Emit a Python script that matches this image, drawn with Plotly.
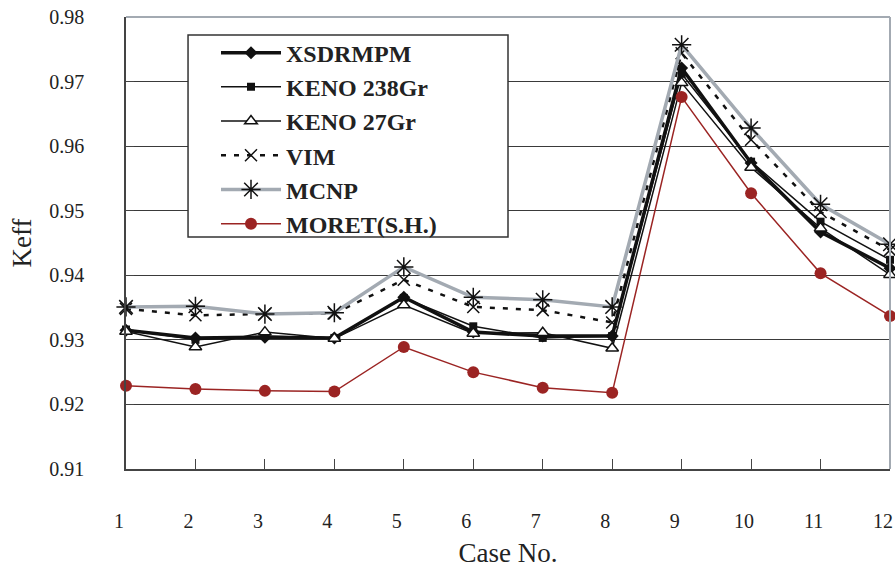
import plotly.graph_objects as go

cases = list(range(1, 13))
tick_labels = [str(c) for c in cases]

xsdrmpm = [0.9315, 0.9303, 0.9304, 0.9303, 0.9366, 0.9312, 0.9306, 0.9306, 0.9721, 0.9574, 0.9467, 0.9411]
keno238 = [0.9316, 0.9300, 0.9306, 0.9303, 0.9365, 0.9321, 0.9303, 0.9306, 0.9712, 0.9576, 0.9483, 0.9424]
keno27 = [0.9313, 0.9289, 0.9312, 0.9302, 0.9354, 0.9310, 0.9311, 0.9287, 0.9698, 0.9567, 0.9473, 0.9401]
vim = [0.9348, 0.9338, 0.9340, 0.9341, 0.9393, 0.9351, 0.9346, 0.9327, 0.9744, 0.9610, 0.9498, 0.9439]
mcnp = [0.9351, 0.9352, 0.9340, 0.9342, 0.9413, 0.9366, 0.9362, 0.9351, 0.9757, 0.9628, 0.9510, 0.9448]
moret = [0.9229, 0.9224, 0.9221, 0.9220, 0.9289, 0.9250, 0.9226, 0.9218, 0.9676, 0.9527, 0.9403, 0.9337]

y_ticks = [0.91, 0.92, 0.93, 0.94, 0.95, 0.96, 0.97, 0.98]

serif = "Liberation Serif, Times New Roman, serif"
red = "#9b2423"
gray = "#a3aab2"

fig = go.Figure()

fig.add_trace(go.Scatter(x=cases, y=xsdrmpm, name="XSDRMPM", mode="lines+markers",
                         line=dict(color="#111111", width=3.5),
                         marker=dict(symbol="diamond", size=10, color="#111111")))
fig.add_trace(go.Scatter(x=cases, y=keno238, name="KENO 238Gr", mode="lines+markers",
                         line=dict(color="#111111", width=1.5),
                         marker=dict(symbol="square", size=8, color="#111111")))
fig.add_trace(go.Scatter(x=cases, y=keno27, name="KENO 27Gr", mode="lines+markers",
                         line=dict(color="#111111", width=1.5),
                         marker=dict(symbol="triangle-up", size=11, color="white",
                                     line=dict(color="#111111", width=1.5))))
fig.add_trace(go.Scatter(x=cases, y=vim, name="VIM", mode="lines+markers",
                         line=dict(color="#111111", width=2.5, dash="5px,8px"),
                         marker=dict(symbol="x-thin-open", size=12, color="#111111",
                                     line=dict(color="#111111", width=1.5))))
fig.add_trace(go.Scatter(x=cases, y=mcnp, name="MCNP", mode="lines+markers",
                         line=dict(color=gray, width=3.5),
                         marker=dict(symbol="asterisk-open", size=16, color="#111111",
                                     line=dict(color="#111111", width=1.5))))
fig.add_trace(go.Scatter(x=cases, y=moret, name="MORET(S.H.)", mode="lines+markers",
                         line=dict(color=red, width=1.5),
                         marker=dict(symbol="circle", size=12, color=red)))

fig.update_traces(cliponaxis=False)

fig.update_layout(
    width=895, height=568,
    margin=dict(l=126, r=5, t=17, b=99),
    paper_bgcolor="white", plot_bgcolor="white",
    font=dict(family=serif, color="#222222"),
    showlegend=True,
    legend=dict(x=0.1178, y=0.9700, xanchor="left", yanchor="top",
                bgcolor="rgba(0,0,0,0)", borderwidth=0,
                font=dict(family=serif, size=24, color="#222222", weight="bold"),
                itemwidth=60, tracegroupgap=0),
    xaxis=dict(range=[1, 12], tickvals=cases, ticktext=tick_labels, automargin=False,
               showgrid=False, zeroline=False,
               showline=True, linecolor="#444444", linewidth=1.5,
               ticks="inside", ticklen=10, tickcolor="#444444", tickwidth=1,
               tickfont=dict(size=20, color="#222222"), ticklabelstandoff=33,
               ticklabelshift=-7, ticklabeloverflow="allow",
               title=dict(text="Case No.", font=dict(size=27, color="#222222"), standoff=12)),
    yaxis=dict(range=[0.91, 0.98], tickvals=y_ticks, ticktext=[f"{v:.2f}" for v in y_ticks],
               automargin=False,
               showgrid=True, gridcolor="#3a3a3a", gridwidth=1, zeroline=False,
               showline=True, linecolor="#444444", linewidth=1.5,
               ticks="inside", ticklen=8, tickcolor="#444444",
               tickfont=dict(size=20, color="#222222"), ticklabelstandoff=36,
               title=dict(text="Keff", font=dict(size=27, color="#222222"), standoff=10)),
    shapes=[
        dict(type="line", xref="paper", yref="paper", x0=0, x1=1, y0=1, y1=1,
             line=dict(color=gray, width=2), layer="above"),
        dict(type="line", xref="paper", yref="paper", x0=1, x1=1, y0=0, y1=1,
             line=dict(color=gray, width=2), layer="above"),
        dict(type="rect", xref="paper", yref="paper", x0=0.0812, x1=0.5, y0=0.5133, y1=0.9602,
             line=dict(color="#333333", width=1.5), fillcolor="white", layer="above"),
    ],
)

fig.write_html("out.html")
